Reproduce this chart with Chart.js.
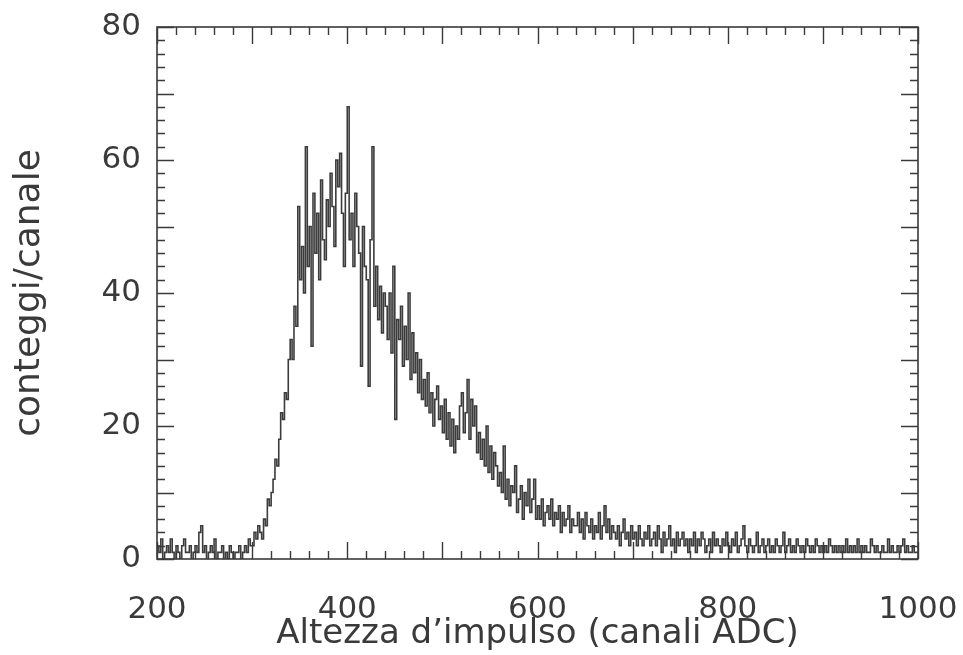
<!DOCTYPE html>
<html>
<head>
<meta charset="utf-8">
<script src="https://cdn.jsdelivr.net/npm/chart.js@4.4.0/dist/chart.umd.min.js"></script>
<style>
  html, body { margin: 0; padding: 0; background: #fff; }
  #wrap { width: 963px; height: 655px; }
</style>
</head>
<body>
<div id="wrap"><canvas id="spectrum"></canvas></div>
<script>
// Pulse height spectrum, 2-channel bins starting at channel 200
const binStart = 200;
const binWidth = 2;
const counts = [
  2, 1, 3, 0, 1, 2, 1, 3, 1, 0, 2, 1, 0, 2, 3, 1, 1, 2, 0, 1,         // 200-238
  2, 1, 4, 5, 1, 2, 0, 1, 2, 1, 3, 0, 1, 1, 2, 0, 1, 0, 2, 1,         // 240-278
  0, 1, 1, 2, 0, 1, 2, 1, 3, 2, 2, 4, 3, 5, 4, 3, 6, 5, 9, 8,         // 280-318
  10, 12, 15, 14, 18, 22, 21, 25, 24, 30, 33, 30, 38, 35, 53, 42, 47, 40, 62, 44, // 320-358
  50, 32, 55, 46, 52, 42, 57, 48, 45, 54, 50, 58, 53, 47, 60, 56, 61, 52, 44, 55, // 360-398
  68, 48, 52, 44, 55, 50, 46, 29, 50, 44, 42, 26, 48, 62, 38, 44, 36, 41, 34, 40, // 400-438
  38, 33, 40, 31, 44, 21, 36, 33, 38, 29, 35, 30, 40, 27, 34, 28, 31, 25, 30, 24, // 440-478
  27, 23, 28, 22, 25, 20, 24, 26, 21, 23, 19, 24, 18, 22, 17, 21, 16, 20, 18, 23, // 480-518
  25, 19, 22, 27, 18, 24, 20, 23, 16, 19, 15, 18, 14, 20, 13, 17, 12, 16, 14, 11, // 520-558
  13, 10, 17, 9, 12, 8, 11, 10, 14, 7, 9, 11, 6, 10, 8, 12, 7, 9, 12, 6,          // 560-598
  8, 6, 9, 5, 7, 8, 6, 9, 5, 7, 6, 8, 4, 7, 5, 6, 8, 4, 6, 5,         // 600-638
  5, 7, 4, 6, 3, 7, 5, 4, 6, 3, 5, 4, 7, 3, 5, 8, 4, 6, 3, 5,         // 640-678
  4, 3, 5, 2, 4, 6, 3, 4, 2, 5, 3, 4, 2, 5, 3, 2, 4, 3, 5, 2,         // 680-718
  3, 4, 2, 5, 3, 1, 4, 2, 3, 5, 2, 3, 1, 4, 2, 3, 4, 2, 3, 1,         // 720-758
  3, 2, 4, 1, 3, 2, 4, 3, 1, 2, 3, 1, 4, 2, 3, 2, 1, 3, 2, 4,         // 760-798
  2, 1, 3, 2, 4, 1, 2, 3, 5, 2, 1, 3, 2, 1, 2, 4, 1, 2, 3, 1,         // 800-838
  2, 3, 1, 2, 1, 3, 2, 1, 2, 4, 1, 2, 3, 1, 2, 1, 3, 2, 1, 2,         // 840-878
  1, 3, 2, 1, 2, 1, 3, 2, 1, 2, 1, 2, 1, 3, 2, 1, 2, 1, 2, 1,         // 880-918
  2, 1, 3, 1, 2, 1, 2, 1, 3, 1, 2, 1, 2, 1, 1, 3, 2, 1, 2, 1,         // 920-958
  1, 2, 1, 1, 3, 1, 2, 1, 1, 2, 1, 2, 3, 1, 2, 1, 1, 2, 1, 1          // 960-998
];
const xTickLabels = [200, 400, 600, 800, 1000];
const yTickLabels = [0, 20, 40, 60, 80];

const points = counts.map((c, i) => ({ x: binStart + i * binWidth, y: c }));
points.push({ x: binStart + counts.length * binWidth, y: counts[counts.length - 1] });

const INK = '#3a3a3a';
const FONT = 'DejaVu Sans';

// frame with inward ticks on all four sides
const frameTicks = {
  id: 'frameTicks',
  afterDatasetsDraw(chart) {
    const { ctx, chartArea: a, scales: { x, y } } = chart;
    ctx.save();
    ctx.strokeStyle = INK;
    ctx.lineWidth = 1.6;
    ctx.strokeRect(a.left, a.top, a.right - a.left, a.bottom - a.top);
    ctx.lineWidth = 1.4;
    ctx.beginPath();
    for (let v = 200; v <= 1000; v += 20) {
      const px = Math.round(x.getPixelForValue(v)) + 0.5;
      const len = v % 100 === 0 ? 17 : 8;
      ctx.moveTo(px, a.bottom); ctx.lineTo(px, a.bottom - len);
      ctx.moveTo(px, a.top); ctx.lineTo(px, a.top + len);
    }
    for (let v = 0; v <= 80; v += 2) {
      const py = Math.round(y.getPixelForValue(v)) + 0.5;
      const len = v % 10 === 0 ? 17 : 8;
      ctx.moveTo(a.left, py); ctx.lineTo(a.left + len, py);
      ctx.moveTo(a.right, py); ctx.lineTo(a.right - len, py);
    }
    ctx.stroke();
    ctx.restore();
  }
};

new Chart(document.getElementById('spectrum'), {
  type: 'line',
  data: {
    datasets: [{
      data: points,
      stepped: 'before',
      borderColor: '#3c3c3c',
      borderWidth: 1.6,
      pointRadius: 0,
      fill: false
    }]
  },
  options: {
    responsive: true,
    maintainAspectRatio: false,
    animation: false,
    layout: { padding: { top: 27, right: 45, bottom: 0, left: 0 } },
    plugins: { legend: { display: false }, tooltip: { enabled: false } },
    scales: {
      x: {
        type: 'linear',
        min: 200,
        max: 1000,
        afterBuildTicks: (s) => { s.ticks = xTickLabels.map(v => ({ value: v })); },
        afterFit: (s) => { s.height = 96; s.paddingLeft = 0; s.paddingRight = 0; },
        grid: { display: false },
        border: { display: false },
        ticks: {
          color: INK, padding: 24, maxRotation: 0,
          font: { family: FONT, size: 31 },
          callback: (v) => String(v)
        },
        title: {
          display: true,
          text: 'Altezza d\u2019impulso (canali ADC)',
          color: INK,
          padding: 0,
          font: { family: FONT, size: 34 }
        }
      },
      y: {
        min: 0,
        max: 80,
        afterBuildTicks: (s) => { s.ticks = yTickLabels.map(v => ({ value: v })); },
        afterFit: (s) => { s.width = 157; },
        grid: { display: false },
        border: { display: false },
        ticks: { color: INK, padding: 8, font: { family: FONT, size: 31 } },
        title: {
          display: true,
          text: 'conteggi/canale',
          color: INK,
          padding: { top: 8, bottom: 0 },
          font: { family: FONT, size: 36 }
        }
      }
    }
  },
  plugins: [frameTicks]
});
</script>
</body>
</html>
